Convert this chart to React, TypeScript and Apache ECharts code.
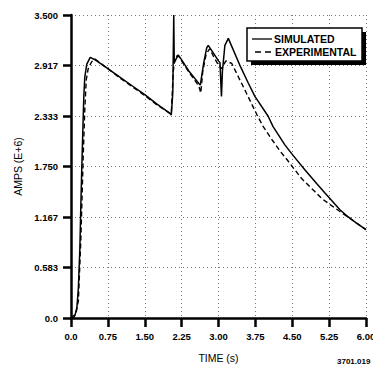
import React, { useEffect, useRef } from 'react';
import * as echarts from 'echarts';

const simTime = [0, 0.05, 0.08, 0.12, 0.15, 0.18, 0.2, 0.22, 0.24, 0.26, 0.28, 0.32, 0.39, 0.5, 0.75, 1.0, 1.25, 1.5, 1.75, 2.0, 2.04, 2.07, 2.09, 2.1, 2.18, 2.24, 2.4, 2.6, 2.63, 2.7, 2.76, 2.79, 2.85, 3.0, 3.03, 3.06, 3.08, 3.13, 3.2, 3.23, 3.45, 3.6, 3.74, 4.01, 4.11, 4.35, 4.5, 4.76, 5.0, 5.17, 5.47, 5.64, 5.8, 6.0];
const simAmps = [0, 0, 0.03, 0.12, 0.35, 0.8, 1.3, 1.75, 2.15, 2.55, 2.78, 2.93, 3.01, 2.98, 2.88, 2.78, 2.68, 2.58, 2.47, 2.37, 2.345, 2.6, 3.5, 2.95, 3.04, 2.99, 2.85, 2.71, 2.69, 2.95, 3.12, 3.15, 3.1, 2.97, 2.95, 2.56, 2.85, 3.15, 3.23, 3.19, 2.9, 2.72, 2.56, 2.33, 2.21, 2.0, 1.89, 1.71, 1.55, 1.44, 1.25, 1.167, 1.1, 1.02];

const expTime = [0, 0.1, 0.15, 0.2, 0.25, 0.28, 0.31, 0.35, 0.42, 0.49, 0.75, 1.0, 1.25, 1.5, 1.75, 2.0, 2.04, 2.08, 2.12, 2.18, 2.25, 2.4, 2.6, 2.64, 2.68, 2.75, 2.82, 2.9, 3.0, 3.06, 3.15, 3.27, 3.4, 3.54, 3.66, 3.78, 3.91, 4.1, 4.25, 4.42, 4.69, 4.96, 5.1, 5.27, 5.47, 5.75, 6.0];
const expAmps = [0, 0.05, 0.2, 0.9, 1.9, 2.4, 2.75, 2.88, 2.96, 2.99, 2.88, 2.77, 2.67, 2.57, 2.46, 2.37, 2.36, 2.85, 3.02, 3.03, 2.97, 2.84, 2.68, 2.6, 2.85, 3.05, 3.11, 3.02, 2.92, 2.88, 2.97, 2.94, 2.79, 2.63, 2.49, 2.35, 2.21, 2.05, 1.93, 1.81, 1.61, 1.46, 1.38, 1.31, 1.23, 1.12, 1.02];

const xTickLabels = ['0.0', '0.75', '1.50', '2.25', '3.00', '3.75', '4.50', '5.25', '6.00'];
const yTickLabels = ['0.0', '0.583', '1.167', '1.750', '2.333', '2.917', '3.500'];
const legendNames = ['SIMULATED', 'EXPERIMENTAL'];

const FONT = 'Liberation Sans, Arial, Helvetica, sans-serif';

export default function App() {
  const ref = useRef<HTMLDivElement>(null);
  useEffect(() => {
    if (!ref.current) return;
    const chart = echarts.init(ref.current, null, { renderer: 'svg' });
    const yStep = 3.5 / 6;
    chart.setOption({
      animation: false,
      backgroundColor: '#fff',
      textStyle: { fontFamily: FONT, color: '#000' },
      grid: { left: 71, right: 7, top: 15, bottom: 48, containLabel: false, outerBoundsMode: 'none' },
      xAxis: {
        type: 'value',
        min: 0,
        max: 6,
        interval: 0.75,
        name: 'TIME (s)',
        nameLocation: 'middle',
        nameGap: 34,
        nameTextStyle: { fontSize: 10.5, color: '#000', fontFamily: FONT },
        axisLine: { show: true, onZero: false, lineStyle: { color: '#000', width: 2.5 } },
        axisTick: { show: true, length: 9, lineStyle: { color: '#000', width: 2.5 } },
        axisLabel: {
          margin: 13,
          fontSize: 9.5,
          fontWeight: 'bold',
          color: '#000',
          fontFamily: FONT,
          formatter: (v: number) => xTickLabels[Math.round(v / 0.75)] ?? '',
        },
        splitLine: { show: true, lineStyle: { color: '#777', width: 1, type: [1, 3] } },
      },
      yAxis: {
        type: 'value',
        min: 0,
        max: 3.5,
        interval: yStep,
        name: 'AMPS (E+6)',
        nameLocation: 'middle',
        nameGap: 48,
        nameRotate: 90,
        nameTextStyle: { fontSize: 10.5, color: '#000', fontFamily: FONT },
        axisLine: { show: true, onZero: false, lineStyle: { color: '#000', width: 2.5 } },
        axisTick: { show: true, length: 8, lineStyle: { color: '#000', width: 2.5 } },
        axisLabel: {
          margin: 13,
          fontSize: 9.5,
          fontWeight: 'bold',
          color: '#000',
          fontFamily: FONT,
          formatter: (v: number) => yTickLabels[Math.round(v / yStep)] ?? '',
        },
        splitLine: { show: true, lineStyle: { color: '#777', width: 1, type: [1, 3] } },
      },
      series: [
        {
          name: legendNames[1],
          type: 'line',
          data: expTime.map((t, i) => [t, expAmps[i]]),
          showSymbol: false,
          symbol: 'none',
          lineStyle: { color: '#000', width: 1.4, type: [5, 3] },
          z: 3,
        },
        {
          name: legendNames[0],
          type: 'line',
          data: simTime.map((t, i) => [t, simAmps[i]]),
          showSymbol: false,
          symbol: 'none',
          lineStyle: { color: '#000', width: 1.5 },
          z: 4,
        },
      ],
      graphic: [
        { type: 'rect', shape: { x: 251, y: 32, width: 115, height: 33 }, style: { fill: '#000' }, z: 10 },
        { type: 'rect', shape: { x: 247, y: 28, width: 115, height: 33 }, style: { fill: '#fff', stroke: '#000', lineWidth: 1.5 }, z: 11 },
        { type: 'line', shape: { x1: 252, y1: 39, x2: 272, y2: 39 }, style: { stroke: '#000', lineWidth: 1.3 }, z: 12 },
        { type: 'line', shape: { x1: 255, y1: 52, x2: 272, y2: 52 }, style: { stroke: '#000', lineWidth: 1.3, lineDash: [6, 4] }, z: 12 },
        { type: 'text', x: 274, y: 39, style: { text: legendNames[0], fill: '#000', font: `bold 10.5px ${FONT}`, textVerticalAlign: 'middle', verticalAlign: 'middle' }, z: 12 },
        { type: 'text', x: 275, y: 52, style: { text: legendNames[1], fill: '#000', font: `bold 10.5px ${FONT}`, textVerticalAlign: 'middle', verticalAlign: 'middle' }, z: 12 },
        { type: 'text', x: 337, y: 361, style: { text: '3701.019', fill: '#000', font: `bold 8px ${FONT}`, verticalAlign: 'middle', textVerticalAlign: 'middle' }, z: 12 },
      ],
    });
    return () => chart.dispose();
  }, []);
  return (
    <div
      ref={ref}
      style={{ position: 'fixed', left: 0, top: 0, width: 373, height: 366, background: '#fff' }}
    />
  );
}
